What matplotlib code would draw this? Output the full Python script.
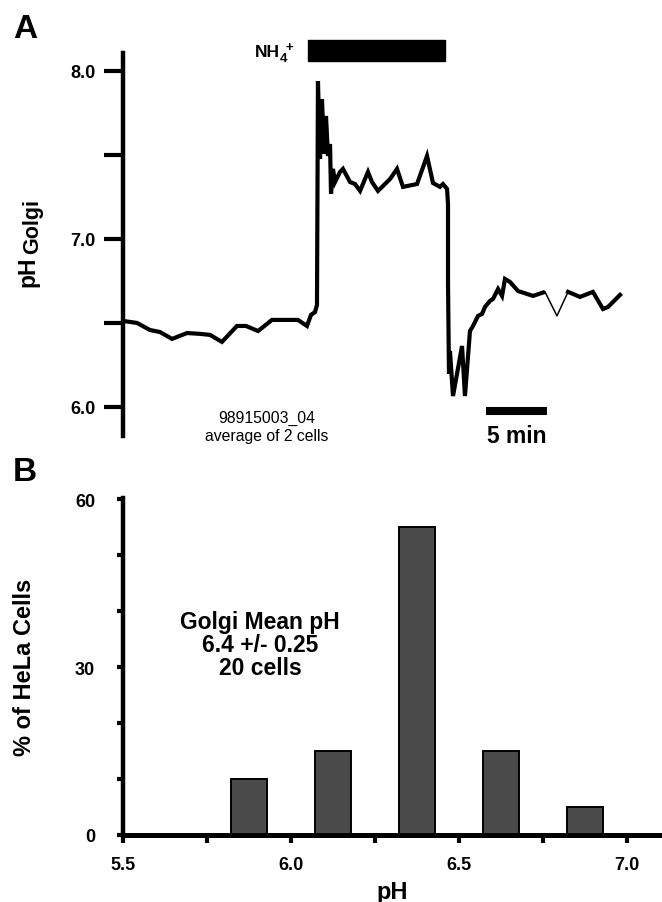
import matplotlib
matplotlib.use("Agg")
import matplotlib.pyplot as plt
from matplotlib.patches import Rectangle

plt.rcParams['font.family'] = ['Liberation Sans', 'DejaVu Sans']

# ---------------- Panel A data (time in min, pH) ----------------
trace_time = [0.00, 1.15, 2.21, 3.03, 4.02, 5.25, 6.31, 7.13, 8.11, 9.34, 10.08,
              11.07, 12.21, 14.34, 15.08, 15.41, 15.74, 15.90, 15.98, 16.15, 16.31,
              16.48, 16.64, 16.80, 16.97, 17.05, 17.21, 17.38, 17.79, 18.03, 18.61,
              19.02, 19.43, 20.08, 20.41, 20.90, 21.89, 22.46, 22.95, 24.10, 24.92,
              25.41, 25.98, 26.23, 26.56, 26.64, 26.64, 26.72, 26.80, 27.05, 27.79,
              28.03, 28.44, 28.69, 29.10, 29.43, 29.67, 30.08, 30.33, 30.74, 31.07,
              31.31, 31.72, 32.38, 33.61, 34.59]
trace_ph = [6.512, 6.500, 6.458, 6.446, 6.405, 6.440, 6.435, 6.429, 6.387, 6.482, 6.482,
            6.452, 6.518, 6.518, 6.482, 6.548, 6.565, 6.607, 7.940, 7.476, 7.833,
            7.506, 7.732, 7.494, 7.565, 7.268, 7.417, 7.339, 7.399, 7.417, 7.339,
            7.327, 7.286, 7.399, 7.339, 7.286, 7.357, 7.417, 7.310, 7.327, 7.494,
            7.333, 7.310, 7.327, 7.298, 7.208, 6.744, 6.196, 6.333, 6.065, 6.363,
            6.065, 6.452, 6.482, 6.542, 6.554, 6.595, 6.631, 6.643, 6.702, 6.661,
            6.762, 6.744, 6.690, 6.661, 6.685]
thin_time = [34.59, 35.57, 36.48]
thin_ph = [6.685, 6.542, 6.685]
tail_time = [36.48, 37.46, 38.52, 39.34, 39.75, 40.74]
tail_ph = [6.685, 6.655, 6.685, 6.583, 6.595, 6.667]

nh4_start, nh4_end = 15.16, 26.39      # min
scale_start, scale_len = 29.75, 5.0     # min
a_yticks = [6.0, 6.5, 7.0, 7.5, 8.0]
a_yticklabels = ['6.0', '', '7.0', '', '8.0']

# ---------------- Panel B data ----------------
bin_centers = [5.875, 6.125, 6.375, 6.625, 6.875]
pct_cells = [10, 15, 55, 15, 5]
b_xticks = [5.5, 5.75, 6.0, 6.25, 6.5, 6.75, 7.0]
b_xticklabels = ['5.5', '', '6.0', '', '6.5', '', '7.0']
b_yticks = [0, 10, 20, 30, 40, 50, 60]
b_yticklabels = ['0', '', '', '30', '', '', '60']

W, H = 662, 903
fig = plt.figure(figsize=(W / 100, H / 100), dpi=100)

# ---------------- Panel A ----------------
axA = fig.add_axes([123 / W, 1 - 437 / H, (650 - 123) / W, (437 - 54) / H])
axA.set_xlim(0, (650 - 123) / 12.2)
axA.set_ylim(5.827, 8.107)
for s in ['top', 'right', 'bottom']:
    axA.spines[s].set_visible(False)
axA.spines['left'].set_linewidth(3.2)
axA.set_xticks([])
axA.set_yticks(a_yticks)
axA.set_yticklabels(a_yticklabels, fontsize=13, fontweight='bold')
axA.tick_params(axis='y', direction='out', length=13.5, width=3.0, pad=6)

axA.plot(trace_time, trace_ph, color='black', lw=3.0, solid_joinstyle='miter',
         solid_capstyle='butt')
axA.plot(thin_time, thin_ph, color='black', lw=1.1)
axA.plot(tail_time, tail_ph, color='black', lw=3.0, solid_joinstyle='miter')

axA.add_patch(Rectangle((nh4_start, 8.06), nh4_end - nh4_start, 0.125,
                        facecolor='black', edgecolor='black', clip_on=False))
# NH4+ label composed of pieces (figure pixel positions)
fig.text(255 / W, 1 - 57 / H, 'NH', fontsize=12.5, fontweight='bold', ha='left', va='baseline')
fig.text(279.5 / W, 1 - 62 / H, '4', fontsize=9.5, fontweight='bold', ha='left', va='baseline')
fig.text(286 / W, 1 - 51 / H, '+', fontsize=9.5, fontweight='bold', ha='left', va='baseline')

axA.plot([scale_start, scale_start + scale_len], [5.976, 5.976], color='black',
         lw=5.8, solid_capstyle='butt')
axA.text(scale_start + scale_len / 2, 5.83, '5 min', fontsize=16.5,
         fontweight='bold', ha='center', va='center')
axA.text((266.5 - 123) / 12.2, 5.885, '98915003_04\naverage of 2 cells',
         fontsize=11.3, ha='center', va='center', linespacing=1.2)

fig.text(13 / W, 1 - 30 / H, 'A', fontsize=24, fontweight='bold', ha='left', va='center')
fig.text(28 / W, 1 - 272 / H, 'pH', fontsize=16.5, fontweight='bold', rotation=90,
         ha='center', va='center')
fig.text(33 / W, 1 - 227 / H, 'Golgi', fontsize=15.5, fontweight='bold', rotation=90,
         ha='center', va='center')

# ---------------- Panel B ----------------
axB = fig.add_axes([123 / W, 1 - 836 / H, (662 - 123) / W, (836 - 499) / H])
axB.set_xlim(5.5, 5.5 + (662 - 123) / 336)
axB.set_ylim(0, 60.2)
axB.spines['top'].set_visible(False)
axB.spines['right'].set_visible(False)
axB.spines['left'].set_linewidth(3.2)
axB.spines['bottom'].set_linewidth(3.6)
axB.bar(bin_centers, pct_cells, width=0.105, color='#4a4a4a', edgecolor='black',
        linewidth=1.4, zorder=2)
axB.set_xticks(b_xticks)
axB.set_xticklabels(b_xticklabels, fontsize=13, fontweight='bold')
axB.set_yticks(b_yticks)
axB.set_yticklabels(b_yticklabels, fontsize=13, fontweight='bold')
axB.tick_params(axis='y', direction='out', length=4, width=3.0, pad=16)
axB.tick_params(axis='x', direction='out', length=6, width=3.0, pad=9)
axB.set_xlabel('pH', fontsize=17, fontweight='bold', labelpad=5)
axB.set_ylabel('% of HeLa Cells', fontsize=17, fontweight='bold', labelpad=28)
axB.text(5.5 + (260 - 123) / 336, 34.1,
         'Golgi Mean pH\n6.4 +/- 0.25\n20 cells', fontsize=16.5, fontweight='bold',
         ha='center', va='center', linespacing=1.0)

fig.text(13 / W, 1 - 473 / H, 'B', fontsize=24, fontweight='bold', ha='left', va='center')

fig.savefig('out.png', dpi=100)
